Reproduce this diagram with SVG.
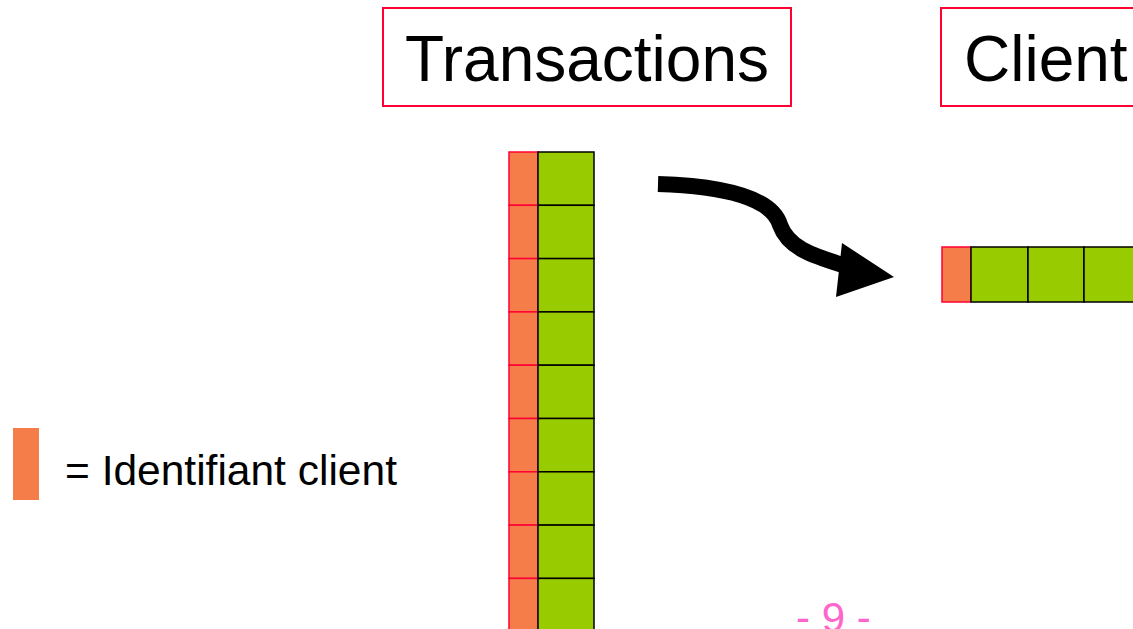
<svg xmlns="http://www.w3.org/2000/svg" width="1133" height="629" viewBox="0 0 1133 629">
<style>
.title{fill:#fff;stroke:#ff0033;stroke-width:2}
.tt{font-family:"Liberation Sans",Arial,sans-serif;font-size:64px;fill:#000}
.id{fill:#f47d4a;stroke:#ff0033;stroke-width:1.5}
.val{fill:#99cc00;stroke:#000;stroke-width:1.5}
</style>
<defs>
<g id="row">
<rect class="id" x="0" y="0" width="29" height="53.3"/>
<rect class="val" x="29" y="0" width="56" height="53.3"/>
</g>
</defs>
<g id="transactions-title">
<rect class="title" x="383" y="8" width="408" height="98"/>
<text class="tt" x="587" y="81" text-anchor="middle">Transactions</text>
</g>
<g id="client-title">
<rect class="title" x="941" y="8" width="200" height="98"/>
<text class="tt" x="964" y="81">Client</text>
</g>
<g id="transactions-column">
<use href="#row" x="509" y="152"/>
<use href="#row" x="509" y="205.3"/>
<use href="#row" x="509" y="258.6"/>
<use href="#row" x="509" y="311.9"/>
<use href="#row" x="509" y="365.2"/>
<use href="#row" x="509" y="418.5"/>
<use href="#row" x="509" y="471.8"/>
<use href="#row" x="509" y="525.1"/>
<use href="#row" x="509" y="578.4"/>
</g>
<g id="client-row">
<rect class="id" x="942" y="247" width="29" height="55"/>
<rect class="val" x="971" y="247" width="57" height="55"/>
<rect class="val" x="1028" y="247" width="56" height="55"/>
<rect class="val" x="1084" y="247" width="56" height="55"/>
</g>
<g id="connectors">
<path d="M658,184 C725,186 772,198 780,225 C788,247 810,255 843,265" fill="none" stroke="#000" stroke-width="16"/>
<polygon points="842,243 894,277 836,297" fill="#000"/>
</g>
<g id="legend">
<rect x="13" y="428" width="26" height="72" fill="#f47d4a"/>
<text x="65" y="485" font-family="'Liberation Sans',Arial,sans-serif" font-size="42.5" fill="#000">= Identifiant client</text>
</g>
<g id="page-number">
<text x="796" y="632" font-family="'Liberation Sans',Arial,sans-serif" font-size="42" fill="#ff66cc">- 9 -</text>
</g>
</svg>
